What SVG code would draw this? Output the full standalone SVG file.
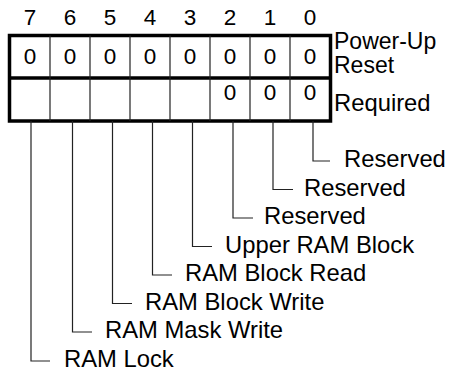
<svg xmlns="http://www.w3.org/2000/svg" width="449" height="371" viewBox="0 0 449 371">
<style>
text{font-family:"Liberation Sans",Arial,sans-serif;fill:#000}
.d{font-size:22.5px;text-anchor:middle}
.l{font-size:23.8px}
.r{font-size:23px}
.thick{fill:none;stroke:#000;stroke-width:3.5}
.thin{stroke:#222;stroke-width:1.2;fill:none}
</style>
<rect width="449" height="371" fill="#fff"/>
<g id="bit-numbers">
<text class="d" x="30" y="25">7</text><text class="d" x="70" y="25">6</text><text class="d" x="110" y="25">5</text><text class="d" x="150" y="25">4</text><text class="d" x="190" y="25">3</text><text class="d" x="230" y="25">2</text><text class="d" x="270" y="25">1</text><text class="d" x="310" y="25">0</text>
</g>
<g id="register">
<rect class="thick" x="9.5" y="35.5" width="321" height="85.5"/>
<line class="thick" x1="9.5" y1="78" x2="330.5" y2="78"/>
<path class="thin" d="M50 35.5V121M90 35.5V121M130 35.5V121M170 35.5V121M210 35.5V121M250 35.5V121M290 35.5V121"/>
<text class="d" x="30" y="64">0</text><text class="d" x="70" y="64">0</text><text class="d" x="110" y="64">0</text><text class="d" x="150" y="64">0</text><text class="d" x="190" y="64">0</text><text class="d" x="230" y="64">0</text><text class="d" x="270" y="64">0</text><text class="d" x="310" y="64">0</text>
<text class="d" x="230" y="100">0</text><text class="d" x="270" y="100">0</text><text class="d" x="310" y="100">0</text>
</g>
<g id="row-labels">
<text class="r" x="334" y="48.5">Power-Up</text>
<text class="r" x="334" y="72.5">Reset</text>
<text class="l" x="334" y="111">Required</text>
</g>
<g id="connectors">
<path class="thin" d="M313 121V161H330"/>
<path class="thin" d="M273 121V189.5H293"/>
<path class="thin" d="M233 121V218H253"/>
<path class="thin" d="M192.5 121V246.5H212"/>
<path class="thin" d="M152.5 121V275H172"/>
<path class="thin" d="M112.5 121V303.5H132"/>
<path class="thin" d="M72.5 121V332H92"/>
<path class="thin" d="M31 121V361H50"/>
</g>
<g id="bit-labels">
<text class="l" x="344" y="167">Reserved</text>
<text class="l" x="304" y="195.5">Reserved</text>
<text class="l" x="264" y="224">Reserved</text>
<text class="l" x="225" y="252.5">Upper RAM Block</text>
<text class="l" x="185" y="281">RAM Block Read</text>
<text class="l" x="145" y="309.5">RAM Block Write</text>
<text class="l" x="105" y="338">RAM Mask Write</text>
<text class="l" x="64" y="367">RAM Lock</text>
</g>
</svg>
